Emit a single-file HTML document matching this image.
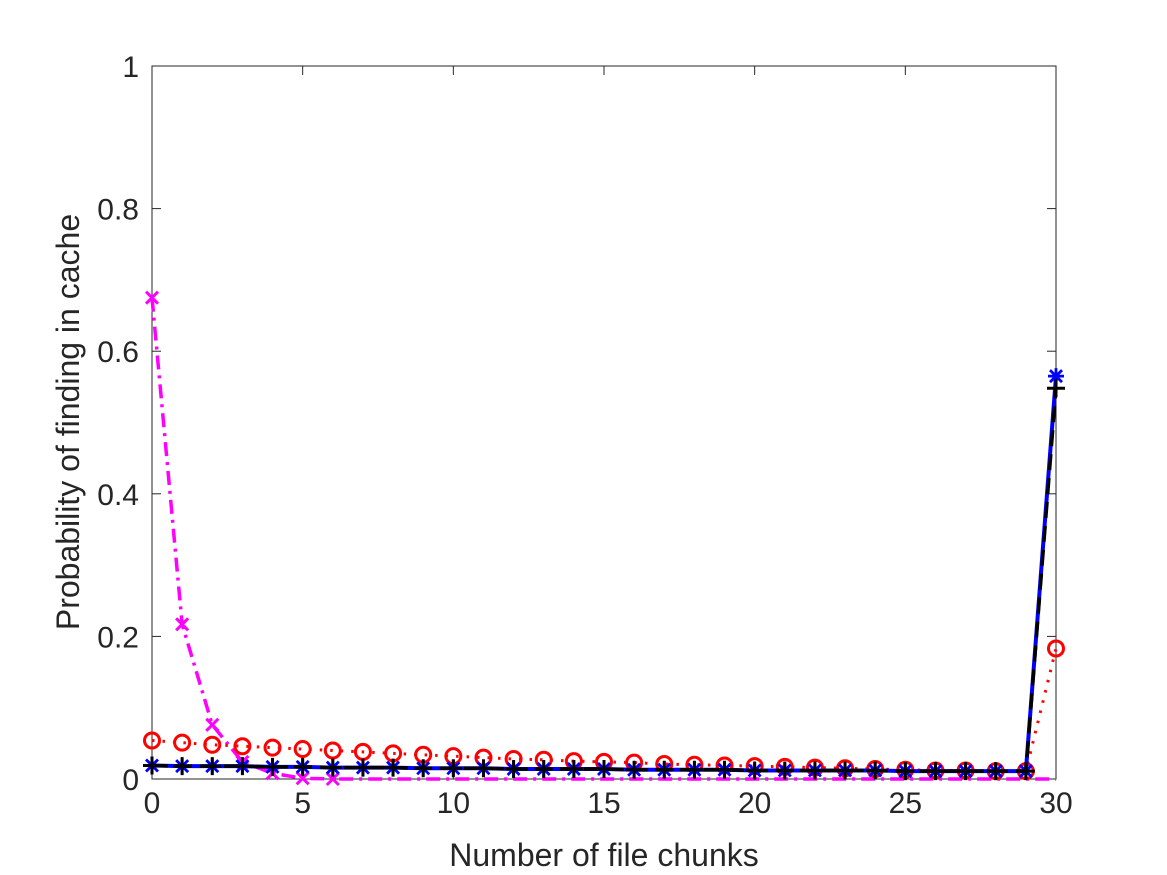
<!DOCTYPE html>
<html><head><meta charset="utf-8"><style>
html,body{margin:0;padding:0;background:#fff;}
svg{display:block;font-family:"Liberation Sans",Arial,sans-serif;}
</style></head><body>
<svg id="chart" width="1167" height="875" xmlns="http://www.w3.org/2000/svg">
<rect x="0" y="0" width="1167" height="875" fill="#fff"/>
<g id="plot"></g>
<text x="604" y="866" font-size="32" fill="#262626" text-anchor="middle">Number of file chunks</text>
<text transform="translate(79,422) rotate(-90)" font-size="32" fill="#262626" text-anchor="middle">Probability of finding in cache</text>
</svg>
<script>
const xs = [0,1,2,3,4,5,6,7,8,9,10,11,12,13,14,15,16,17,18,19,20,21,22,23,24,25,26,27,28,29,30];
const blueVals = [0.019,0.018,0.018,0.018,0.017,0.017,0.016,0.016,0.016,0.015,0.015,0.015,0.014,0.014,0.014,0.014,0.013,0.013,0.013,0.013,0.012,0.012,0.012,0.012,0.012,0.011,0.011,0.011,0.011,0.011,0.565];
const blackVals = [0.019,0.018,0.018,0.018,0.017,0.017,0.016,0.016,0.016,0.015,0.015,0.015,0.014,0.014,0.014,0.014,0.013,0.013,0.013,0.013,0.012,0.012,0.012,0.012,0.012,0.011,0.011,0.011,0.011,0.011,0.548];
const redVals = [0.054,0.051,0.048,0.046,0.044,0.042,0.040,0.038,0.036,0.034,0.032,0.030,0.028,0.027,0.025,0.024,0.023,0.021,0.020,0.019,0.018,0.017,0.016,0.015,0.014,0.013,0.012,0.012,0.011,0.011,0.183];
const magentaVals = [0.675,0.217,0.076,0.024,0.008,0.001,0,0,0,0,0,0,0,0,0,0,0,0,0,0,0,0,0,0,0,0,0,0,0,0,0];
const magentaMarkerCount = 7;
const xTicks = [0,5,10,15,20,25,30];
const yTicks = [0,0.2,0.4,0.6,0.8,1];
const yTickLabels = ["0","0.2","0.4","0.6","0.8","1"];

const NS="http://www.w3.org/2000/svg";
const L=152,R=1056,T=66,B=779;
const sx=v=>L+(v-0)/30*(R-L);
const sy=v=>B-v*(B-T);
const g=document.getElementById('plot');
function mk(tag,attrs){const e=document.createElementNS(NS,tag);for(const k in attrs)e.setAttribute(k,attrs[k]);g.appendChild(e);return e;}

xTicks.forEach(t=>{
  const x=sx(t);
  const a=mk('line',{x1:x,y1:B,x2:x,y2:B-9,stroke:'#262626','stroke-width':1});
  
  
  const b=mk('line',{x1:x,y1:T,x2:x,y2:T+9,stroke:'#262626','stroke-width':1});
  
  
  const tx=mk('text',{x:x,y:813,'font-size':30,fill:'#262626','text-anchor':'middle'});
  tx.textContent=t;
  
  
});
yTicks.forEach((t,i)=>{
  const y=sy(t);
  const a=mk('line',{x1:L,y1:y,x2:L+9,y2:y,stroke:'#262626','stroke-width':1});
  
  
  const b=mk('line',{x1:R,y1:y,x2:R-9,y2:y,stroke:'#262626','stroke-width':1});
  
  
  const tx=mk('text',{x:139,y:y+11,'font-size':30,fill:'#262626','text-anchor':'end'});
  tx.textContent=yTickLabels[i];
  
  
});
const box=mk('rect',{x:L,y:T,width:R-L,height:B-T,fill:'none',stroke:'#262626','stroke-width':1});



function series(vals,color,dash,width,name){
  const pts=vals.map((v,i)=>sx(xs[i])+','+sy(v)).join(' ');
  const p=mk('polyline',{points:pts,fill:'none',stroke:color,'stroke-width':width,'stroke-dasharray':dash});
  
  
}
function markers(vals,color,type,name,count){
  vals.slice(0,count||vals.length).forEach((v,i)=>{
    const x=sx(xs[i]),y=sy(v);
    let e;
    if(type==='o'){
      e=mk('circle',{cx:x,cy:y,r:7.5,fill:'none',stroke:color,'stroke-width':3});
    }else if(type==='x'){
      e=mk('path',{d:`M${x-6},${y-6}L${x+6},${y+6}M${x-6},${y+6}L${x+6},${y-6}`,stroke:color,'stroke-width':3,fill:'none'});
    }else if(type==='+'){
      e=mk('path',{d:`M${x-9},${y}L${x+9},${y}M${x},${y-9}L${x},${y+9}`,stroke:color,'stroke-width':3,fill:'none'});
    }else{
      e=mk('path',{d:`M${x-8},${y}L${x+8},${y}M${x},${y-8}L${x},${y+8}M${x-6},${y-6}L${x+6},${y+6}M${x-6},${y+6}L${x+6},${y-6}`,stroke:color,'stroke-width':2.8,fill:'none'});
    }
    
    
  });
}
series(magentaVals,'#ff00ff','14 6 3 6',3.5,'magenta');
markers(magentaVals,'#ff00ff','x','magenta',magentaMarkerCount);
series(redVals,'#ff0000','2.5 8',3,'red');
markers(redVals,'#ff0000','o','red');
series(blueVals,'#0000ff','none',4,'blue');
markers(blueVals,'#0000ff','*','blue');
series(blackVals,'#000000','16 8',3.5,'black');
markers(blackVals,'#000000','+','black');
</script>
</body></html>
